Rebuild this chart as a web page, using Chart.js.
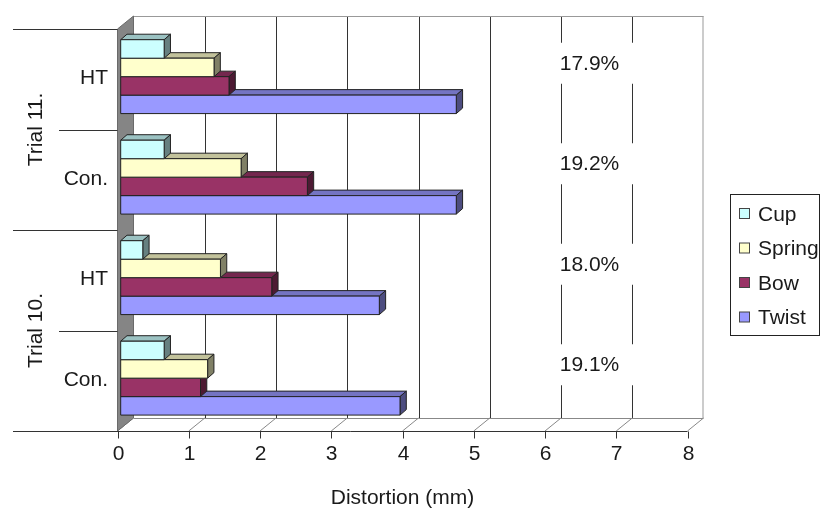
<!DOCTYPE html>
<html>
<head>
<meta charset="utf-8">
<script src="https://cdn.jsdelivr.net/npm/chart.js@4.4.1/dist/chart.umd.min.js"></script>
<style>
  html, body { margin: 0; padding: 0; background: #fff; }
  #wrap { width: 820px; height: 509px; position: relative; }
</style>
</head>
<body>
<div id="wrap"><canvas id="chartCanvas" width="820" height="509"></canvas></div>
<script>
// data
const categories = ['HT', 'Con.', 'HT', 'Con.'];
const groups = ['Trial 11.', 'Trial 10.'];
const cupValues = [0.61, 0.61, 0.31, 0.61];
const springValues = [1.31, 1.69, 1.40, 1.22];
const bowValues = [1.52, 2.62, 2.12, 1.12];
const twistValues = [4.71, 4.71, 3.63, 3.92];
const pctLabels = ['17.9%', '19.2%', '18.0%', '19.1%'];
const xTicks = [0, 1, 2, 3, 4, 5, 6, 7, 8];

const FONT = '21px "Liberation Sans", Arial, sans-serif';
const BACK = { x: 16, y: -13 };      // offset of back wall from front plane
const PLANE = { x: 3.2, y: -2.6 };   // bars sit a little behind the front
const DEPTH = { x: 6.3, y: -5.5 };   // bar thickness

function shade(hex, f) {
    const n = parseInt(hex.slice(1), 16);
    const r = Math.round(((n >> 16) & 255) * f);
    const g = Math.round(((n >> 8) & 255) * f);
    const b = Math.round((n & 255) * f);
    return `rgb(${r},${g},${b})`;
}

function poly(ctx, pts, fill, stroke) {
    ctx.beginPath();
    ctx.moveTo(pts[0][0], pts[0][1]);
    for (let i = 1; i < pts.length; i++) ctx.lineTo(pts[i][0], pts[i][1]);
    ctx.closePath();
    if (fill) { ctx.fillStyle = fill; ctx.fill(); }
    if (stroke) { ctx.strokeStyle = stroke; ctx.stroke(); }
}

function line(ctx, x1, y1, x2, y2, color) {
    ctx.beginPath();
    ctx.moveTo(x1, y1);
    ctx.lineTo(x2, y2);
    ctx.strokeStyle = color;
    ctx.stroke();
}

const bar3d = {
    id: 'bar3d',
    beforeDatasetsDraw(chart) {
        const { ctx, chartArea: a, scales: { x, y } } = chart;
        ctx.save();
        ctx.lineWidth = 1;

        // back wall
        const bl = a.left + BACK.x, br = a.right + BACK.x;
        const bt = a.top + BACK.y, bb = a.bottom + BACK.y;
        ctx.fillStyle = '#fff';
        ctx.fillRect(bl, bt, br - bl, bb - bt);
        xTicks.forEach(v => {
            if (v === 0 || v === xTicks[xTicks.length - 1]) return;
            const px = Math.round(x.getPixelForValue(v) + BACK.x) + 0.5;
            line(ctx, px, bt, px, bb, '#333');
        });
        line(ctx, bl, bt + 0.5, br, bt + 0.5, '#999');
        line(ctx, br - 0.5, bt, br - 0.5, bb, '#999');

        // percentage labels on the back wall
        ctx.font = FONT;
        ctx.textAlign = 'center';
        ctx.textBaseline = 'middle';
        pctLabels.forEach((t, i) => {
            const cx = x.getPixelForValue(6.4) + BACK.x;
            const cy = y.getPixelForValue(i) - 16.5;
            ctx.fillStyle = '#fff';
            ctx.fillRect(cx - 40, cy - 20, 88, 41);
            ctx.fillStyle = '#1a1a1a';
            ctx.fillText(t, cx, cy + 1);
        });

        // floor
        poly(ctx, [[a.left, a.bottom], [bl, bb], [br, bb], [a.right, a.bottom]], '#fff', null);
        line(ctx, bl, bb + 0.5, br, bb + 0.5, '#888');
        xTicks.forEach(v => {
            const px = x.getPixelForValue(v);
            line(ctx, px, a.bottom, px + BACK.x, bb, '#888');
        });

        // left wall
        poly(ctx, [[a.left, a.top], [bl, bt], [bl, bb], [a.left, a.bottom]], '#858585', '#6a6a6a');

        // bars, bottom ones first so upper fronts cover lower tops
        const n = chart.data.datasets.length;
        for (let j = categories.length - 1; j >= 0; j--) {
            for (let i = n - 1; i >= 0; i--) {
                const ds = chart.data.datasets[i];
                const el = chart.getDatasetMeta(i).data[j];
                const L = el.base + PLANE.x, R = el.x + PLANE.x;
                const T = el.y - el.height / 2 + PLANE.y, B = el.y + el.height / 2 + PLANE.y;
                const edge = '#222';
                poly(ctx, [[L, T], [L + DEPTH.x, T + DEPTH.y], [R + DEPTH.x, T + DEPTH.y], [R, T]],
                    shade(ds.backgroundColor, 0.76), edge);
                poly(ctx, [[R, T], [R + DEPTH.x, T + DEPTH.y], [R + DEPTH.x, B + DEPTH.y], [R, B]],
                    shade(ds.backgroundColor, 0.5), edge);
                poly(ctx, [[L, T], [R, T], [R, B], [L, B]], ds.backgroundColor, edge);
            }
        }
        ctx.restore();
        return false;
    },
    afterDraw(chart) {
        const { ctx, chartArea: a, scales: { x, y } } = chart;
        ctx.save();
        ctx.lineWidth = 1;
        ctx.font = FONT;
        ctx.fillStyle = '#1a1a1a';

        // value axis
        const ay = Math.round(a.bottom) + 0.5;
        line(ctx, 13, ay, a.right, ay, '#333');
        ctx.textAlign = 'center';
        ctx.textBaseline = 'middle';
        xTicks.forEach(v => {
            const px = Math.round(x.getPixelForValue(v)) + 0.5;
            line(ctx, px, ay, px, ay + 7, '#333');
            ctx.fillText(String(v), px, a.bottom + 23);
        });
        ctx.textBaseline = 'alphabetic';
        ctx.fillText('Distortion (mm)', (a.left + a.right) / 2, 504);

        // category axis: labels and group brackets
        const band = y.getPixelForValue(1) - y.getPixelForValue(0);
        ctx.textAlign = 'right';
        ctx.textBaseline = 'middle';
        categories.forEach((c, i) => {
            ctx.fillText(c, 108, y.getPixelForValue(i) - 1);
        });
        for (let i = 0; i <= categories.length; i++) {
            const ly = Math.round(y.getPixelForValue(0) - band / 2 + i * band) + 0.5;
            const x0 = i % 2 === 0 ? 13 : 59;
            line(ctx, x0, ly, a.left, ly, '#333');
        }
        ctx.textAlign = 'center';
        groups.forEach((g, k) => {
            const cy = (y.getPixelForValue(2 * k) + y.getPixelForValue(2 * k + 1)) / 2;
            ctx.save();
            ctx.translate(36, cy);
            ctx.rotate(-Math.PI / 2);
            ctx.fillText(g, 0, 0);
            ctx.restore();
        });

        // legend
        ctx.strokeStyle = '#222';
        ctx.strokeRect(730.5, 194.5, 89, 141);
        ctx.textAlign = 'left';
        chart.data.datasets.forEach((ds, i) => {
            const cy = 214 + i * 34.5;
            ctx.fillStyle = ds.backgroundColor;
            ctx.fillRect(739.5, cy - 5.5, 10, 10);
            ctx.strokeStyle = '#444';
            ctx.strokeRect(739.5, cy - 5.5, 10, 10);
            ctx.fillStyle = '#1a1a1a';
            ctx.fillText(ds.label, 758, cy + 1);
        });
        ctx.restore();
    }
};

const ctx = document.getElementById('chartCanvas').getContext('2d');
const chart = new Chart(ctx, {
    type: 'bar',
    data: {
        labels: categories,
        datasets: [
            { label: 'Cup', data: cupValues, backgroundColor: '#ccffff' },
            { label: 'Spring', data: springValues, backgroundColor: '#ffffcc' },
            { label: 'Bow', data: bowValues, backgroundColor: '#993366' },
            { label: 'Twist', data: twistValues, backgroundColor: '#9999ff' }
        ]
    },
    options: {
        indexAxis: 'y',
        responsive: false,
        animation: false,
        devicePixelRatio: 1,
        layout: { padding: { left: 117.5, right: 132.5, top: 29, bottom: 78 } },
        categoryPercentage: 0.735,
        barPercentage: 1,
        plugins: { legend: { display: false }, tooltip: { enabled: false } },
        scales: {
            x: { display: false, min: 0, max: 8 },
            y: { display: false, offset: true }
        }
    },
    plugins: [bar3d]
});
</script>
</body>
</html>
